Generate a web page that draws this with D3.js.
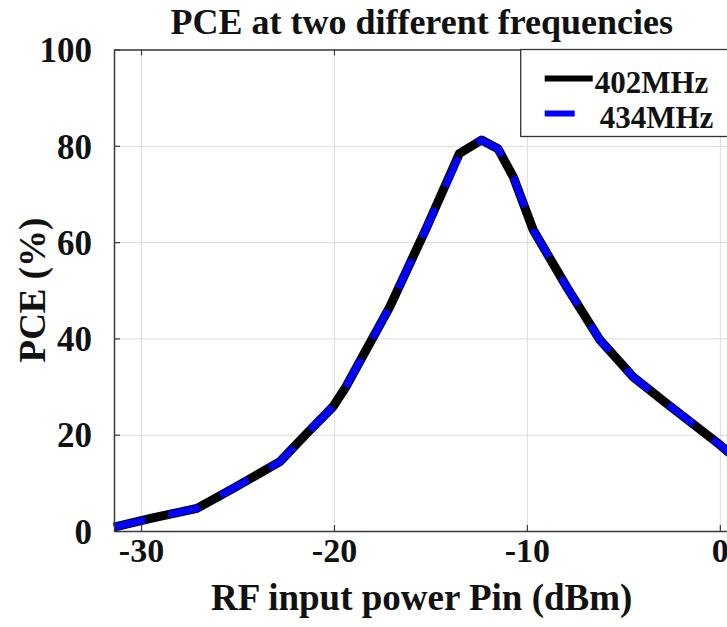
<!DOCTYPE html>
<html>
<head>
<meta charset="utf-8">
<script src="https://cdn.jsdelivr.net/npm/d3@7"></script>
<style>
  html, body { margin: 0; padding: 0; background: #fff; }
  svg { display: block; font-family: "Liberation Serif", "Times New Roman", serif; font-weight: bold; }
</style>
</head>
<body>
<div id="chart"></div>
<script>
const pin = [-31.4, -29.5, -27.1, -25.2, -22.8, -21.4, -20.05, -19.4, -17.1, -15.2, -13.5, -12.35, -11.5, -10.7, -9.67, -7.94, -6.22, -4.49, -2.76, 0, 0.5];
// PCE (%) for the two frequencies
const pce402 = [0.8, 2.6, 4.7, 8.9, 14.4, 20.3, 25.8, 29.8, 46.6, 63, 78.4, 81.2, 79.4, 73.5, 62.5, 50.7, 39.7, 32.0, 26.5, 17.9, 16.2];
const pce434 = [0.8, 2.6, 4.7, 8.9, 14.4, 20.3, 25.8, 29.8, 46.6, 63, 78.0, 81.2, 79.4, 73.5, 62.5, 50.7, 39.7, 32.0, 26.5, 17.9, 16.2];
const xTicks = [-30, -20, -10, 0];
const yTicks = [0, 20, 40, 60, 80, 100];
const seriesNames = ["402MHz", "434MHz"];

const W = 727, H = 627;
const margin = { top: 49.5, left: 114 };
const plotRight = 729.5, plotBottom = 531;
const innerW = plotRight - margin.left;
const innerH = plotBottom - margin.top;

const svg = d3.select("#chart").append("svg")
  .attr("width", W).attr("height", H)
  .attr("viewBox", `0 0 ${W} ${H}`);

svg.append("rect").attr("width", W).attr("height", H).attr("fill", "#fff");

const x = d3.scaleLinear().domain([-31.4, 0.5]).range([0, innerW]);
const y = d3.scaleLinear().domain([0, 100]).range([innerH, 0]);

const g = svg.append("g").attr("transform", `translate(${margin.left},${margin.top})`);

// grid
g.append("g")
  .attr("transform", `translate(0,${innerH})`)
  .call(d3.axisBottom(x).tickValues(xTicks).tickSize(-innerH).tickFormat(""))
  .call(s => s.select(".domain").remove())
  .call(s => s.selectAll("line").attr("stroke", "#dcdcdc").attr("stroke-width", 1));
g.append("g")
  .call(d3.axisLeft(y).tickValues(yTicks).tickSize(-innerW).tickFormat(""))
  .call(s => s.select(".domain").remove())
  .call(s => s.selectAll("line").attr("stroke", "#dcdcdc").attr("stroke-width", 1));

// lines
const pts402 = pin.map((p, i) => [p, pce402[i]]);
const pts434 = pin.map((p, i) => [p, pce434[i]]);
const line = d3.line().x(d => x(d[0])).y(d => y(d[1]));

g.append("path").datum(pts402)
  .attr("d", line)
  .attr("fill", "none")
  .attr("stroke", "#000")
  .attr("stroke-width", 9)
  .attr("stroke-linejoin", "round");

g.append("path").datum(pts434)
  .attr("d", line)
  .attr("fill", "none")
  .attr("stroke", "#0000ff")
  .attr("stroke-width", 7)
  .attr("stroke-dasharray", "32,24")
  .attr("stroke-linejoin", "round");

// axes frame + inward ticks
const axisColor = "#3a3a3a";
const bottomAxis = g.append("g")
  .attr("transform", `translate(0,${innerH})`)
  .call(d3.axisBottom(x).tickValues(xTicks).tickSize(-6).tickSizeOuter(0).tickFormat(d3.format("d")));
bottomAxis.select(".domain").attr("stroke", axisColor).attr("stroke-width", 1.5);
bottomAxis.selectAll("line").attr("stroke", axisColor).attr("stroke-width", 1.2);
bottomAxis.selectAll("text")
  .attr("y", 31).attr("dy", 0)
  .attr("fill", "#111")
  .attr("font-size", 34)
  .attr("font-family", "Liberation Serif, Times New Roman, serif")
  .attr("font-weight", "bold")
  .text(d => d < 0 ? "-" + Math.abs(d) : d);

const leftAxis = g.append("g")
  .call(d3.axisLeft(y).tickValues(yTicks).tickSize(-6).tickSizeOuter(0));
leftAxis.select(".domain").attr("stroke", axisColor).attr("stroke-width", 1.5);
leftAxis.selectAll("line").attr("stroke", axisColor).attr("stroke-width", 1.2);
leftAxis.selectAll("text")
  .attr("x", -22).attr("dy", "0.35em")
  .attr("fill", "#111")
  .attr("font-size", 35)
  .attr("font-family", "Liberation Serif, Times New Roman, serif")
  .attr("font-weight", "bold");

const topAxis = g.append("g")
  .call(d3.axisTop(x).tickValues(xTicks).tickSize(-6).tickSizeOuter(0).tickFormat(""));
topAxis.select(".domain").attr("stroke", axisColor).attr("stroke-width", 1.5);
topAxis.selectAll("line").attr("stroke", axisColor).attr("stroke-width", 1.2);

g.append("line")
  .attr("x1", innerW).attr("x2", innerW).attr("y1", 0).attr("y2", innerH)
  .attr("stroke", axisColor).attr("stroke-width", 1.5);

// title & labels
svg.append("text")
  .attr("x", 421.7).attr("y", 34)
  .attr("text-anchor", "middle")
  .attr("font-size", 36)
  .attr("fill", "#111")
  .text("PCE at two different frequencies");

svg.append("text")
  .attr("x", 421.7).attr("y", 610)
  .attr("text-anchor", "middle")
  .attr("font-size", 37)
  .attr("fill", "#111")
  .text("RF input power Pin (dBm)");

svg.append("text")
  .attr("transform", "translate(45,290) rotate(-90)")
  .attr("text-anchor", "middle")
  .attr("font-size", 37)
  .attr("fill", "#111")
  .text("PCE (%)");

// legend
const legend = svg.append("g").attr("transform", "translate(520.7,49.5)");
legend.append("rect")
  .attr("width", 230).attr("height", 87)
  .attr("fill", "#fff")
  .attr("stroke", "#333").attr("stroke-width", 1.3);
legend.append("line")
  .attr("x1", 24).attr("x2", 72).attr("y1", 29).attr("y2", 29)
  .attr("stroke", "#000").attr("stroke-width", 6);
legend.append("line")
  .attr("x1", 24).attr("x2", 54).attr("y1", 64).attr("y2", 64)
  .attr("stroke", "#0000ff").attr("stroke-width", 6);
legend.selectAll("text.lab")
  .data(seriesNames)
  .join("text")
  .attr("class", "lab")
  .attr("x", (d, i) => i === 0 ? 74 : 79)
  .attr("y", (d, i) => i === 0 ? 43 : 78)
  .attr("font-size", 31)
  .attr("fill", "#111")
  .text(d => d);
</script>
</body>
</html>
